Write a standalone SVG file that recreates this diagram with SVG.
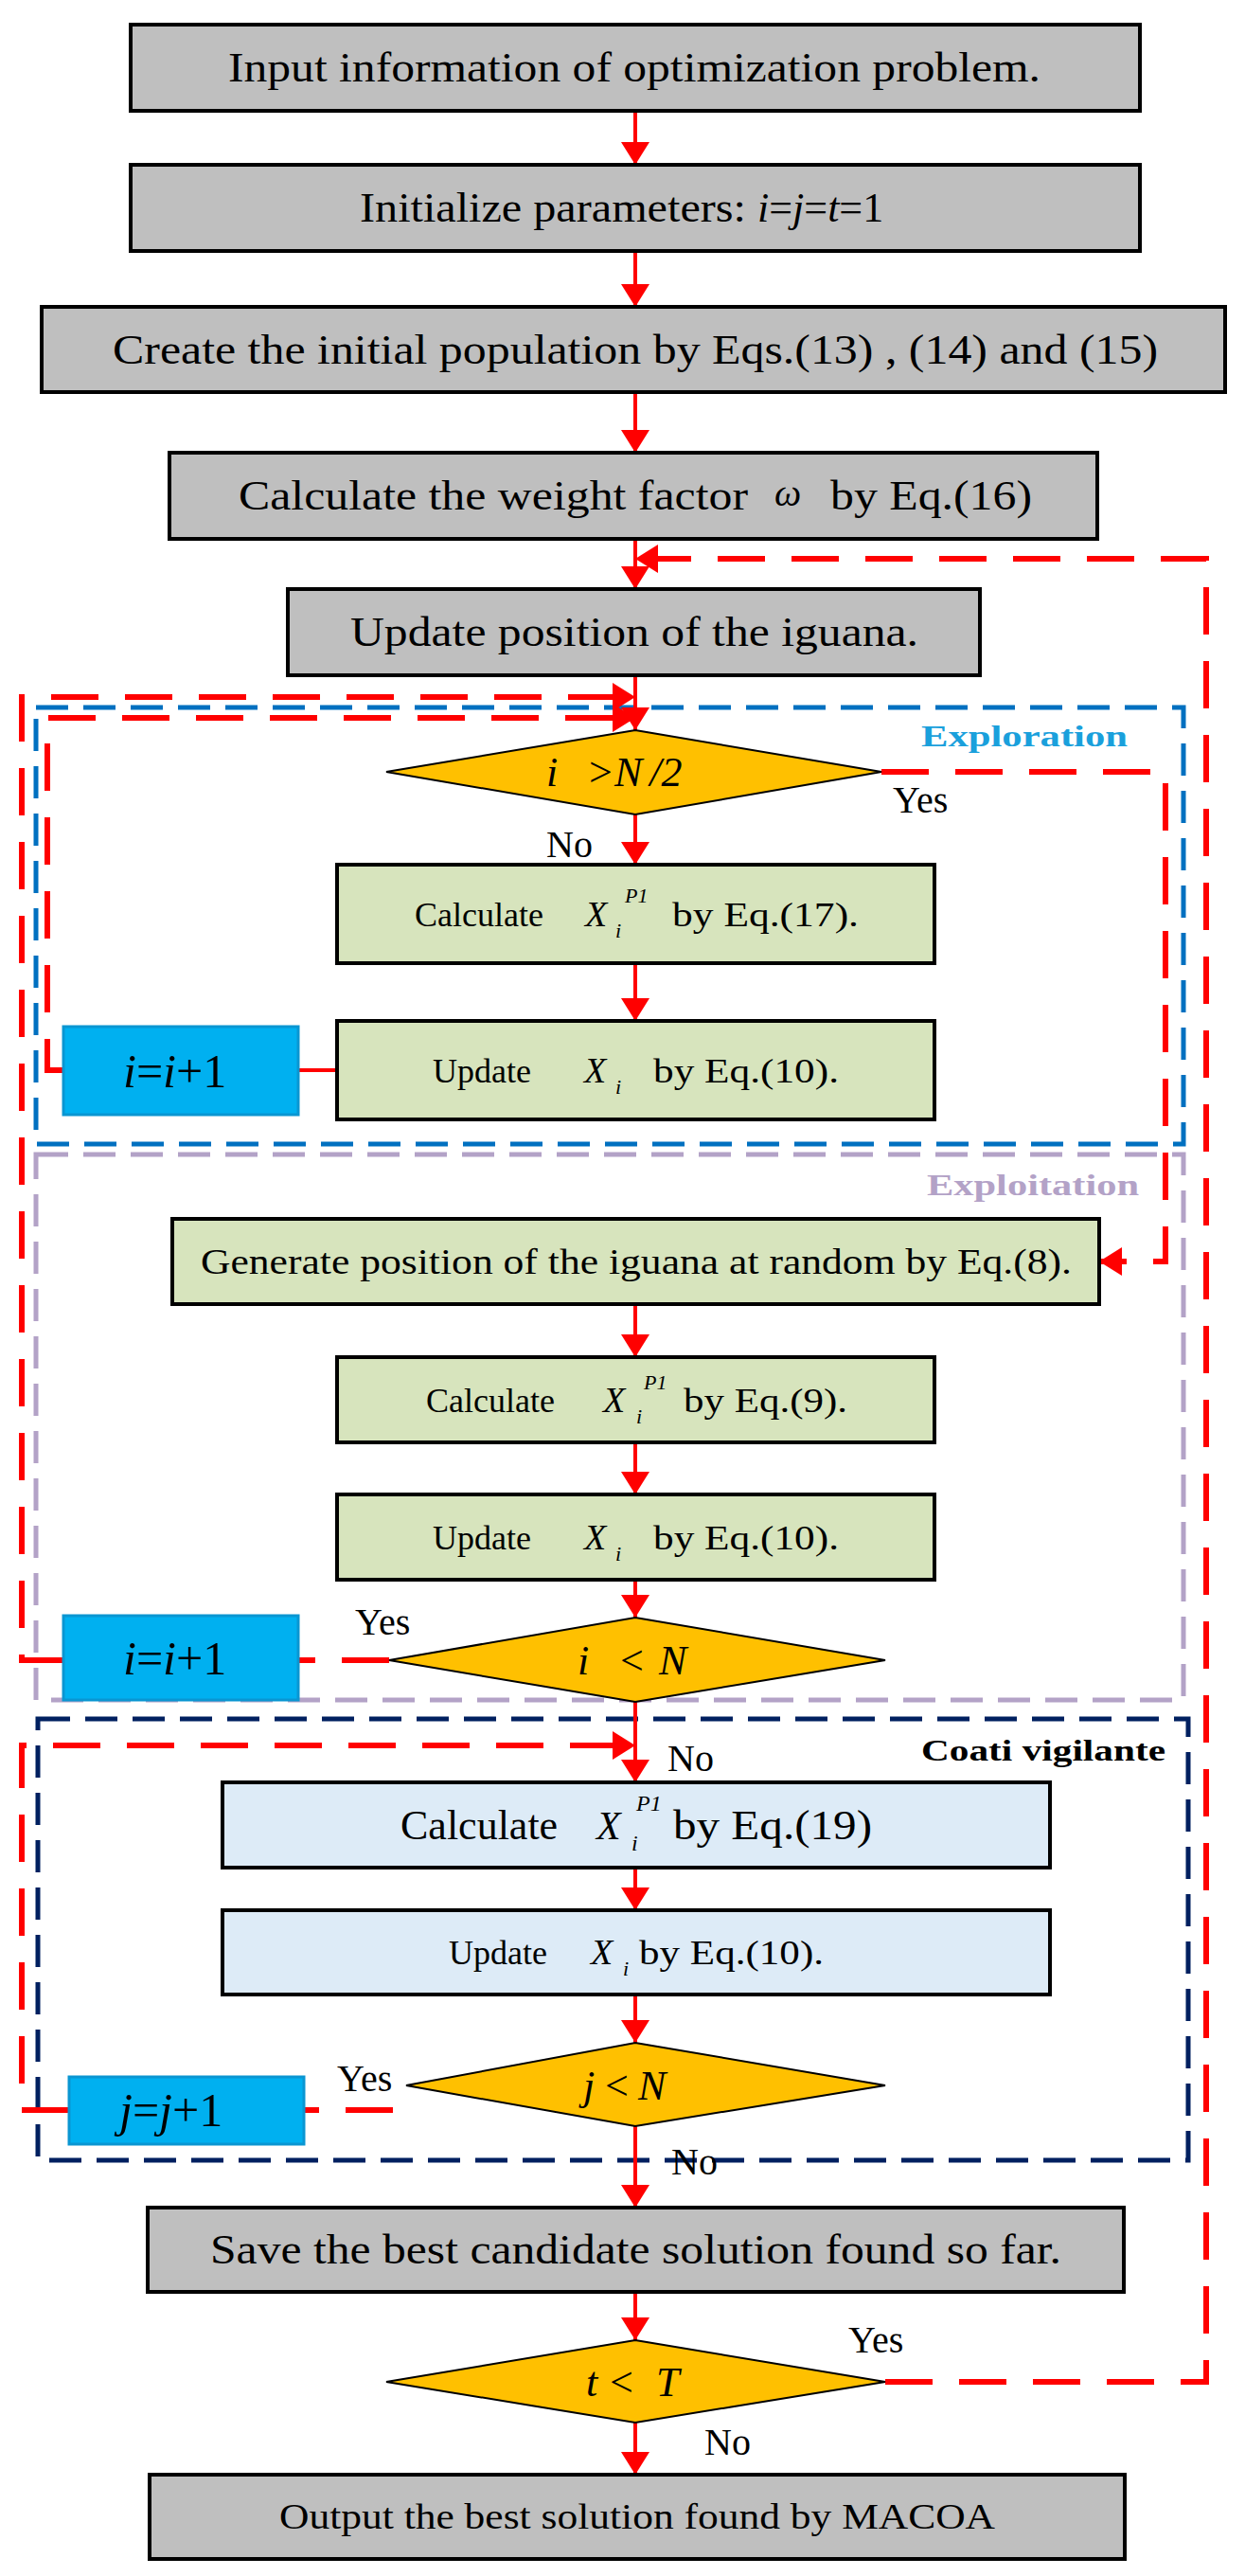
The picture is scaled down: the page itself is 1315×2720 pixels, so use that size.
<svg xmlns="http://www.w3.org/2000/svg" width="1315" height="2720" viewBox="0 0 1315 2720">
<defs>
<style>
.t{font-family:"Liberation Serif","Times New Roman",serif;fill:#000}
.it{font-style:italic}
.g{fill:#BFBFBF;stroke:#000;stroke-width:4}
.gr{fill:#D7E4BD;stroke:#000;stroke-width:4}
.lb{fill:#DDEBF7;stroke:#000;stroke-width:4}
.d{fill:#FFC000;stroke:#000;stroke-width:2}
.bb{fill:#00B0F0;stroke:#0A96D2;stroke-width:3}
.sol{stroke:#FF0000;stroke-width:4;fill:none}
.rd{stroke:#FF0000;stroke-width:6;fill:none;stroke-dasharray:50 28}
</style>
<marker id="a" viewBox="0 0 24 30" refX="24" refY="15" markerWidth="24" markerHeight="30" markerUnits="userSpaceOnUse" orient="auto"><path d="M0,0 L24,15 L0,30 Z" fill="#FF0000"/></marker>
</defs>
<g id="regions" fill="none">
<rect x="38" y="747" width="1212" height="461" stroke="#0070C0" stroke-width="5" stroke-dasharray="34 16"/>
<rect x="38" y="1219" width="1212" height="576" stroke="#B3A2C7" stroke-width="5" stroke-dasharray="34 16"/>
<rect x="40" y="1815" width="1215" height="466" stroke="#002060" stroke-width="5" stroke-dasharray="34 16"/>
<text class="t" x="973" y="788" font-size="32" font-weight="bold" fill="#1AA0DC" style="fill:#1AA0DC" textLength="218" lengthAdjust="spacingAndGlyphs">Exploration</text>
<text class="t" x="979" y="1262" font-size="32" font-weight="bold" style="fill:#B3A2C7" textLength="224" lengthAdjust="spacingAndGlyphs">Exploitation</text>
<text class="t" x="973" y="1859" font-size="32" font-weight="bold" textLength="258" lengthAdjust="spacingAndGlyphs">Coati vigilante</text>
</g>
<g id="connectors">
<path class="sol" d="M671,117 V174" marker-end="url(#a)"/>
<path class="sol" d="M671,265 V324" marker-end="url(#a)"/>
<path class="sol" d="M671,414 V478" marker-end="url(#a)"/>
<path class="sol" d="M671,569 V622" marker-end="url(#a)"/>
<path class="sol" d="M671,713 V771" marker-end="url(#a)"/>
<path class="sol" d="M671,860 V913" marker-end="url(#a)"/>
<path class="sol" d="M671,1017 V1078" marker-end="url(#a)"/>
<path class="sol" d="M671,1377 V1433" marker-end="url(#a)"/>
<path class="sol" d="M671,1523 V1578" marker-end="url(#a)"/>
<path class="sol" d="M671,1668 V1708" marker-end="url(#a)"/>
<path class="sol" d="M671,1797 V1882" marker-end="url(#a)"/>
<path class="sol" d="M671,1972 V2017" marker-end="url(#a)"/>
<path class="sol" d="M671,2106 V2157" marker-end="url(#a)"/>
<path class="sol" d="M671,2245 V2331" marker-end="url(#a)"/>
<path class="sol" d="M671,2420 V2471" marker-end="url(#a)"/>
<path class="sol" d="M671,2558 V2613" marker-end="url(#a)"/>
<path class="sol" d="M315,1130 H356" stroke-width="6"/>
<path class="rd" d="M935,2515 H1274 V590 H671" marker-end="url(#a)"/>
<path class="rd" d="M931,815 H1231 V1332 H1161" marker-end="url(#a)"/>
<path class="rd" d="M67,1130 H50 V758 H671" marker-end="url(#a)"/>
<path class="rd" d="M411,1753 H315"/>
<path class="rd" d="M67,1753 H23 V736 H671" marker-end="url(#a)"/>
<path class="rd" d="M415,2228 H321"/>
<path class="rd" d="M73,2228 H23 V1843 H671" marker-end="url(#a)"/>
</g>
<g id="n1"><rect class="g" x="138" y="26" width="1066" height="91"/><text class="t" x="241" y="86" font-size="44" textLength="858" lengthAdjust="spacingAndGlyphs">Input information of optimization problem.</text></g>
<g id="n2"><rect class="g" x="138" y="174" width="1066" height="91"/><text class="t" x="380" y="234" font-size="44"><tspan textLength="420" lengthAdjust="spacingAndGlyphs">Initialize parameters: </tspan><tspan class="it">i</tspan>=<tspan class="it">j</tspan>=<tspan class="it">t</tspan>=1</text></g>
<g id="n3"><rect class="g" x="44" y="324" width="1250" height="90"/><text class="t" x="119" y="384" font-size="44" textLength="1104" lengthAdjust="spacingAndGlyphs">Create the initial population by Eqs.(13) , (14) and (15)</text></g>
<g id="n4"><rect class="g" x="179" y="478" width="980" height="91"/><text class="t" x="252" y="538" font-size="44" textLength="538" lengthAdjust="spacingAndGlyphs">Calculate the weight factor</text><text class="t it" x="818" y="534" font-size="40">ω</text><text class="t" x="877" y="538" font-size="44" textLength="213" lengthAdjust="spacingAndGlyphs">by Eq.(16)</text></g>
<g id="n5"><rect class="g" x="304" y="622" width="731" height="91"/><text class="t" x="370" y="682" font-size="44" textLength="600" lengthAdjust="spacingAndGlyphs">Update position of the iguana.</text></g>
<g id="d1"><polygon class="d" points="671,771 931,815 671,860 408,815"/><text class="t it" x="577" y="830" font-size="44">i<tspan dx="30">&gt;N</tspan><tspan dx="8">/2</tspan></text><text class="t" x="943" y="858" font-size="40">Yes</text><text class="t" x="577" y="905" font-size="40">No</text></g>
<g id="n6"><rect class="gr" x="356" y="913" width="631" height="104"/><text class="t" x="438" y="978" font-size="36">Calculate</text><text class="t it" x="618" y="978" font-size="38">X</text><text class="t it" x="650" y="990" font-size="22">i</text><text class="t it" x="660" y="953" font-size="22">P1</text><text class="t" x="710" y="978" font-size="36" textLength="197" lengthAdjust="spacingAndGlyphs">by Eq.(17).</text></g>
<g id="n7"><rect class="gr" x="356" y="1078" width="631" height="104"/><text class="t" x="457" y="1143" font-size="36">Update</text><text class="t it" x="617" y="1143" font-size="38">X</text><text class="t it" x="650" y="1155" font-size="22">i</text><text class="t" x="690" y="1143" font-size="36" textLength="196" lengthAdjust="spacingAndGlyphs">by Eq.(10).</text></g>
<g id="inc1"><rect class="bb" x="67" y="1084" width="248" height="93"/><text class="t" x="130" y="1148" font-size="50"><tspan class="it">i</tspan>=<tspan class="it">i</tspan>+1</text></g>
<g id="n8"><rect class="gr" x="182" y="1287" width="979" height="90"/><text class="t" x="212" y="1345" font-size="38" textLength="920" lengthAdjust="spacingAndGlyphs">Generate position of the iguana at random by Eq.(8).</text></g>
<g id="n9"><rect class="gr" x="356" y="1433" width="631" height="90"/><text class="t" x="450" y="1491" font-size="36">Calculate</text><text class="t it" x="637" y="1491" font-size="38">X</text><text class="t it" x="672" y="1503" font-size="22">i</text><text class="t it" x="680" y="1467" font-size="22">P1</text><text class="t" x="722" y="1491" font-size="36" textLength="173" lengthAdjust="spacingAndGlyphs">by Eq.(9).</text></g>
<g id="n10"><rect class="gr" x="356" y="1578" width="631" height="90"/><text class="t" x="457" y="1636" font-size="36">Update</text><text class="t it" x="617" y="1636" font-size="38">X</text><text class="t it" x="650" y="1648" font-size="22">i</text><text class="t" x="690" y="1636" font-size="36" textLength="196" lengthAdjust="spacingAndGlyphs">by Eq.(10).</text></g>
<g id="d2"><polygon class="d" points="671,1708 935,1753 671,1797 411,1753"/><text class="t it" x="610" y="1768" font-size="44">i<tspan dx="30">&lt;</tspan><tspan dx="14">N</tspan></text><text class="t" x="375" y="1726" font-size="40">Yes</text></g>
<g id="inc2"><rect class="bb" x="67" y="1706" width="248" height="89"/><text class="t" x="130" y="1768" font-size="50"><tspan class="it">i</tspan>=<tspan class="it">i</tspan>+1</text></g>
<g id="n11"><rect class="lb" x="235" y="1882" width="874" height="90"/><text class="t" x="705" y="1870" font-size="40">No</text><text class="t" x="423" y="1942" font-size="44">Calculate</text><text class="t it" x="630" y="1942" font-size="42">X</text><text class="t it" x="667" y="1954" font-size="24">i</text><text class="t it" x="672" y="1912" font-size="24">P1</text><text class="t" x="711" y="1942" font-size="44" textLength="210" lengthAdjust="spacingAndGlyphs">by Eq.(19)</text></g>
<g id="n12"><rect class="lb" x="235" y="2017" width="874" height="89"/><text class="t" x="474" y="2074" font-size="36">Update</text><text class="t it" x="624" y="2074" font-size="38">X</text><text class="t it" x="658" y="2086" font-size="22">i</text><text class="t" x="675" y="2074" font-size="36" textLength="195" lengthAdjust="spacingAndGlyphs">by Eq.(10).</text></g>
<g id="d3"><polygon class="d" points="671,2157 935,2202 671,2245 429,2202"/><text class="t it" x="616" y="2217" font-size="44">j<tspan dx="8">&lt;</tspan><tspan dx="8">N</tspan></text><text class="t" x="356" y="2208" font-size="40">Yes</text><text class="t" x="709" y="2296" font-size="40">No</text></g>
<g id="inc3"><rect class="bb" x="73" y="2193" width="248" height="71"/><text class="t" x="126" y="2245" font-size="50"><tspan class="it">j</tspan>=<tspan class="it">j</tspan>+1</text></g>
<g id="n13"><rect class="g" x="156" y="2331" width="1031" height="89"/><text class="t" x="222" y="2390" font-size="44" textLength="899" lengthAdjust="spacingAndGlyphs">Save the best candidate solution found so far.</text></g>
<g id="d4"><polygon class="d" points="671,2471 935,2515 671,2558 408,2515"/><text class="t it" x="619" y="2530" font-size="44">t<tspan dx="10">&lt;</tspan><tspan dx="22">T</tspan></text><text class="t" x="896" y="2484" font-size="40">Yes</text><text class="t" x="744" y="2592" font-size="40">No</text></g>
<g id="n14"><rect class="g" x="158" y="2613" width="1030" height="89"/><text class="t" x="295" y="2670" font-size="38" textLength="756" lengthAdjust="spacingAndGlyphs">Output the best solution found by MACOA</text></g>
</svg>
